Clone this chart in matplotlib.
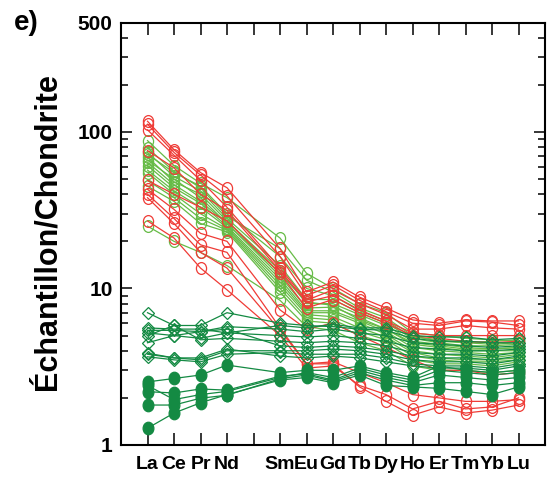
import matplotlib
matplotlib.use('Agg')
import matplotlib.pyplot as plt
from matplotlib.path import Path
from matplotlib.ticker import FixedLocator, NullFormatter

# ---- data -------------------------------------------------------------
tick_labels = ['La', 'Ce', 'Pr', 'Nd', '', 'Sm', 'Eu', 'Gd', 'Tb', 'Dy', 'Ho', 'Er', 'Tm', 'Yb', 'Lu']
elements = ['La', 'Ce', 'Pr', 'Nd', 'Sm', 'Eu', 'Gd', 'Tb', 'Dy', 'Ho', 'Er', 'Tm', 'Yb', 'Lu']

red_series = [
    [117, 77, 55, 44, 18, 9.5, 11.0, 8.8, 7.5, 6.3, 6.0, 6.3, 6.2, 6.2],
    [112, 74, 53, 39, 16, 9.0, 10.5, 8.4, 7.1, 6.0, 5.8, 6.2, 6.1, 5.8],
    [103, 71, 49, 33, 13.5, 8.4, 9.8, 8.0, 6.8, 5.5, 5.5, 5.8, 5.6, 5.5],
    [76, 59, 40, 31.5, 13, 8.2, 9.0, 7.3, 6.2, 5.2, 5.0, 5.0, 5.0, 5.0],
    [49, 40, 33, 27, 12.5, 7.5, 8.5, 7.0, 6.0, 5.0, 4.8, 4.6, 4.5, 4.6],
    [43, 32, 22.5, 20, 7.3, 5.5, 6.0, 5.0, 4.2, 3.5, 3.0, 3.0, 2.8, 2.9],
    [40, 28, 19, 17, 5.6, 3.3, 3.4, 2.9, 2.5, 2.1, 2.0, 1.9, 1.9, 1.95],
    [38, 26, 17, 13.5, 5.4, 3.3, 3.3, 2.35, 1.9, 1.55, 1.75, 1.6, 1.67, 1.8],
    [27, 21, 13.5, 9.8, 5.0, 3.1, 3.2, 2.4, 2.1, 1.7, 1.9, 1.7, 1.75, 2.0],
]

green_series = [
    [88, 61, 47, 38, 21, 12.5, 10.0, 8.0, 7.0, 5.2, 5.0, 4.8, 4.7, 4.6],
    [79, 56, 44, 29, 18, 11.3, 9.5, 7.5, 6.5, 5.0, 4.6, 4.5, 4.4, 4.5],
    [74, 52, 42, 28, 14, 8.5, 8.5, 7.0, 6.0, 4.8, 4.5, 4.3, 4.3, 4.4],
    [69, 48, 40, 27, 13, 8.0, 8.0, 6.8, 5.8, 4.6, 4.4, 4.2, 4.1, 4.2],
    [64, 46, 36, 26, 12, 7.5, 7.6, 6.5, 5.5, 4.4, 4.2, 4.0, 4.0, 4.0],
    [61, 44, 35, 25, 11.5, 7.2, 7.2, 6.2, 5.3, 4.2, 4.0, 3.9, 3.8, 3.9],
    [57, 42, 33, 24.5, 11, 7.0, 7.0, 6.0, 5.1, 4.0, 3.8, 3.7, 3.6, 3.8],
    [55, 40, 30, 24, 10.5, 6.8, 6.6, 5.6, 4.9, 3.9, 3.6, 3.5, 3.5, 3.6],
    [49, 38, 28, 23.5, 10, 6.5, 6.3, 5.3, 4.7, 3.7, 3.5, 3.4, 3.4, 3.5],
    [45, 36, 26, 23, 9.5, 6.2, 6.0, 5.0, 4.5, 3.5, 3.3, 3.3, 3.2, 3.4],
    [72, 55, 45, 30, 16, 10.0, 9.0, 7.2, 6.2, 4.9, 4.7, 4.5, 4.6, 4.7],
    [25, 20, 17, 14, 8.4, 5.7, 5.4, 4.5, 4.0, 3.2, 3.0, 3.0, 2.9, 3.0],
    [66, 50, 38, 26, 12.5, 8.2, 7.8, 6.3, 5.5, 4.5, 4.3, 4.1, 4.1, 4.2],
]

diamond_series = [
    [7.0, 5.8, 5.8, 7.0, 6.0, 5.8, 5.7, 5.5, 5.4, 4.8, 4.6, 4.6, 4.5, 4.5],
    [5.4, 5.4, 5.3, 5.7, 5.5, 5.3, 5.5, 5.2, 5.0, 4.5, 4.4, 4.3, 4.2, 4.3],
    [5.2, 5.0, 4.8, 5.2, 5.0, 4.9, 5.0, 4.8, 4.6, 4.2, 4.1, 4.0, 4.0, 4.1],
    [5.0, 5.8, 4.7, 4.8, 4.6, 4.5, 4.6, 4.5, 4.3, 3.9, 3.8, 3.8, 3.7, 3.9],
    [4.5, 5.0, 5.3, 5.5, 4.3, 4.2, 4.3, 4.2, 4.0, 3.7, 3.6, 3.6, 3.5, 3.7],
    [3.86, 3.6, 3.5, 4.0, 4.0, 4.0, 4.1, 4.0, 3.8, 3.5, 3.4, 3.4, 3.3, 3.5],
    [3.66, 3.5, 3.4, 3.8, 3.9, 3.8, 3.8, 3.8, 3.6, 3.3, 3.2, 3.2, 3.1, 3.3],
    [3.8, 3.6, 3.6, 4.1, 3.7, 3.6, 3.7, 3.6, 3.4, 3.2, 3.1, 3.1, 3.0, 3.2],
    [5.6, 5.5, 5.5, 5.2, 5.8, 5.6, 5.9, 5.6, 5.6, 5.0, 4.9, 4.9, 4.7, 4.8],
]

filled_series = [
    [2.53, 2.66, 2.8, 3.24, 2.9, 3.0, 3.0, 3.2, 2.9, 2.7, 3.2, 3.0, 2.9, 3.0],
    [2.19, 2.15, 2.28, 2.24, 2.75, 2.85, 2.6, 3.0, 2.7, 2.5, 2.8, 2.7, 2.6, 2.7],
    [1.8, 1.8, 1.99, 2.08, 2.65, 2.8, 2.55, 2.9, 2.6, 2.4, 2.5, 2.5, 2.4, 2.5],
    [1.28, 1.6, 1.86, 2.1, 2.6, 2.7, 2.5, 2.8, 2.4, 2.35, 2.3, 2.2, 2.1, 2.35],
    [2.4, 1.95, 2.1, 2.2, 2.7, 2.9, 2.7, 3.1, 2.8, 2.6, 3.0, 2.9, 2.8, 2.9],
]

y_ticks = [1, 10, 100, 500]
y_tick_labels = ['1', '10', '100', '500']

# ---- style ------------------------------------------------------------
RED = '#ef3b36'
LGREEN = '#66bb46'
DGREEN = '#148a43'

plt.rcParams['font.family'] = ['Liberation Sans Narrow', 'Liberation Sans', 'DejaVu Sans']
plt.rcParams['font.weight'] = 'bold'

circ = Path.unit_circle()
ELLIPSE = Path(circ.vertices * [0.86, 1.0], circ.codes)

fig = plt.figure(figsize=(5.55, 4.83), dpi=100)
ax = fig.add_axes([121 / 555, 38 / 483, (545 - 121) / 555, (445 - 22.5) / 483])

xpos = [tick_labels.index(e) for e in elements]

for s in green_series:
    ax.plot(xpos, s, color=LGREEN, lw=0.9, marker=ELLIPSE, ms=8.5, mfc='none',
            mec=LGREEN, mew=0.9)
for s in red_series:
    ax.plot(xpos, s, color=RED, lw=0.9, marker=ELLIPSE, ms=8.5, mfc='none',
            mec=RED, mew=0.9)
for s in diamond_series:
    ax.plot(xpos, s, color=DGREEN, lw=0.9, marker='D', ms=6.5, mfc='none',
            mec=DGREEN, mew=0.9)
for s in filled_series:
    ax.plot(xpos, s, color=DGREEN, lw=0.9, marker=ELLIPSE, ms=9, mfc=DGREEN,
            mec=DGREEN, mew=0.9)

ax.set_yscale('log')
ax.set_ylim(1, 500)
ax.set_xlim(-1, 15)

ax.set_xticks(range(len(tick_labels)))
ax.set_xticklabels(tick_labels, fontsize=14, fontweight='bold')
ax.set_yticks(y_ticks)
ax.set_yticklabels(y_tick_labels, fontsize=15, fontweight='bold')
minor = [m * 10 ** d for d in range(0, 3) for m in range(2, 10) if m * 10 ** d < 500]
ax.yaxis.set_minor_locator(FixedLocator(minor))
ax.yaxis.set_minor_formatter(NullFormatter())

ax.tick_params(axis='x', which='major', direction='in', length=8.5, width=1.1,
               top=True, bottom=True, pad=8)
ax.tick_params(axis='y', which='major', direction='in', length=8, width=1.1,
               left=True, right=True, pad=6)
ax.tick_params(axis='y', which='minor', direction='in', length=5, width=1.1,
               left=True, right=True)
for sp in ax.spines.values():
    sp.set_linewidth(1.5)

fig.text(48 / 555, 1 - 232 / 483, 'Échantillon/Chondrite', rotation=90,
         ha='center', va='center', fontsize=22, fontweight='bold',
         family=['Liberation Sans', 'DejaVu Sans'])
fig.text(14 / 555, 1 - 23 / 483, 'e)', ha='left', va='center', fontsize=20,
         fontweight='bold', family=['Liberation Sans', 'DejaVu Sans'])

fig.savefig('out.png', dpi=100)
